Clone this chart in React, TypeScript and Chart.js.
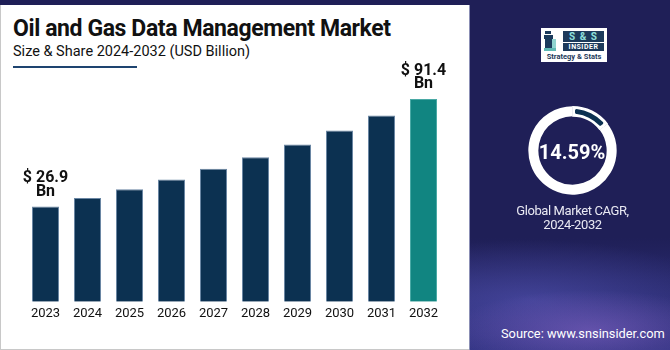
import React, { useEffect, useRef } from "react";
import { Chart, registerables } from "chart.js";

Chart.register(...registerables);

const years = ["2023", "2024", "2025", "2026", "2027", "2028", "2029", "2030", "2031", "2032"];
const marketValues = [26.9, 31.9, 37.2, 43.1, 49.5, 56.4, 64.0, 72.5, 81.4, 91.4];
const axisMin = -30.3;
const axisMax = 103;
const cagrValue = 14.59;
const cagrRest = [cagrValue, 100 - cagrValue];

const NAVY = "#0c3151";
const TEAL = "#118581";
const PANEL = "#1f1f57";

const valueLabelPlugin = {
  id: "valueLabels",
  afterDatasetsDraw(chart: any) {
    const meta = chart.getDatasetMeta(0);
    const ctx = chart.ctx;
    const idxs = [0, marketValues.length - 1];
    ctx.save();
    ctx.fillStyle = "#111111";
    ctx.font = "bold 16px Roboto";
    ctx.textAlign = "center";
    ctx.textBaseline = "middle";
    idxs.forEach((i) => {
      const bar = meta.data[i];
      ctx.fillText("$ " + marketValues[i].toFixed(1), bar.x, bar.y - 28);
      ctx.fillText("Bn", bar.x, bar.y - 14.5);
    });
    ctx.restore();
  },
};

function BarChart() {
  const ref = useRef<HTMLCanvasElement | null>(null);
  useEffect(() => {
    if (!ref.current) return;
    const chart = new Chart(ref.current, {
      type: "bar",
      data: {
        labels: years,
        datasets: [
          {
            data: marketValues,
            base: axisMin,
            backgroundColor: marketValues.map((_, i) => (i === marketValues.length - 1 ? TEAL : NAVY)),
            borderColor: marketValues.map((_, i) => (i === marketValues.length - 1 ? "#4aa9a5" : "#6a86a3")),
            borderWidth: 1,
            barPercentage: 0.643,
            categoryPercentage: 1,
          } as any,
        ],
      },
      options: {
        animation: false,
        responsive: true,
        maintainAspectRatio: false,
        layout: { padding: { left: 24.5, right: 24.5, top: 79.6, bottom: 23.7 } },
        plugins: { legend: { display: false }, tooltip: { enabled: false } },
        scales: {
          x: {
            grid: { display: false, drawTicks: false },
            border: { display: false },
            ticks: { color: "#111111", font: { size: 13, family: "Roboto" }, padding: 4.5 },
          },
          y: { display: false, min: axisMin, max: axisMax },
        },
      },
      plugins: [valueLabelPlugin],
    });
    return () => chart.destroy();
  }, []);
  return <canvas ref={ref} />;
}

function Donut() {
  const ref = useRef<HTMLCanvasElement | null>(null);
  useEffect(() => {
    if (!ref.current) return;
    const chart = new Chart(ref.current, {
      type: "doughnut",
      data: {
        labels: ["CAGR", "rest"],
        datasets: [
          {
            data: cagrRest,
            backgroundColor: [NAVY, "#ffffff"],
            borderColor: ["#ffffff", "#ffffff"],
            borderWidth: [2.5, 0],
            borderAlign: "inner",
            borderRadius: [4, 0],
            hoverOffset: 0,
            offset: 0,
          } as any,
        ],
      },
      options: {
        animation: false,
        responsive: true,
        maintainAspectRatio: false,
        cutout: "76%",
        rotation: 0,
        layout: { padding: 0 },
        plugins: { legend: { display: false }, tooltip: { enabled: false } },
      },
    });
    return () => chart.destroy();
  }, []);
  return <canvas ref={ref} />;
}

function Logo() {
  return (
    <div
      style={{
        position: "absolute",
        left: 541,
        top: 28,
        width: 66,
        height: 34,
        background: "#ffffff",
        overflow: "hidden",
      }}
    >
      <div style={{ position: "absolute", left: 4, top: 3, width: 6, height: 3, background: "#1b3a5c" }} />
      <div style={{ position: "absolute", left: 3, top: 7, width: 9, height: 4, background: "#1b3a5c" }} />
      <div style={{ position: "absolute", left: 4, top: 11, width: 7, height: 9, background: "#1b3a5c" }} />
      <div style={{ position: "absolute", left: 11, top: 11, width: 4, height: 12, background: "#8fd3cf" }} />
      <div style={{ position: "absolute", left: 3, top: 20, width: 12, height: 3, background: "#5fb9b4" }} />
      <div
        style={{
          position: "absolute",
          left: 22,
          top: 3,
          width: 41,
          height: 11,
          background: "#1d3a5b",
          color: "#8fe0dc",
          font: "bold 10px Roboto",
          lineHeight: "11px",
          textAlign: "center",
          letterSpacing: 1,
        }}
      >
        S &amp; S
      </div>
      <div
        style={{
          position: "absolute",
          left: 22,
          top: 15,
          width: 41,
          height: 8,
          background: "#1d3a5b",
          color: "#ffffff",
          font: "bold 7px Roboto",
          lineHeight: "8px",
          textAlign: "center",
          letterSpacing: 0.5,
        }}
      >
        INSIDER
      </div>
      <div
        style={{
          position: "absolute",
          left: 0,
          top: 24,
          width: 66,
          height: 9,
          color: "#1d3a5b",
          font: "bold 7.5px Roboto",
          lineHeight: "9px",
          textAlign: "center",
          whiteSpace: "nowrap",
        }}
      >
        Strategy &amp; Stats
      </div>
    </div>
  );
}

export default function App() {
  useEffect(() => {
    document.body.style.margin = "0";
  }, []);
  return (
    <div
      style={{
        position: "relative",
        width: 670,
        height: 350,
        overflow: "hidden",
        background: "#ffffff",
        fontFamily: "Roboto, sans-serif",
      }}
    >
      <div
        style={{
          position: "absolute",
          left: 0,
          top: 0,
          width: 468,
          height: 349,
          borderLeft: "1px solid #c8c8c8",
          borderBottom: "1px solid #c8c8c8",
          background: "#ffffff",
        }}
      />
      <div
        style={{
          position: "absolute",
          left: 469,
          top: 0,
          width: 201,
          height: 350,
          background:
            "radial-gradient(ellipse 140px 40px at 120px 330px, rgba(150,110,210,0.45), rgba(150,110,210,0) 100%), radial-gradient(ellipse 200px 60px at 60px 300px, rgba(90,90,190,0.5), rgba(90,90,190,0) 100%), linear-gradient(180deg, #1f1f57 0%, #1f1f57 68%, #27286a 80%, #333483 100%)",
          borderLeft: "1px solid #8b8fb5",
        }}
      />
      <div style={{ position: "absolute", left: 0, top: 0, width: 670, height: 5, background: PANEL }} />

      <div
        style={{
          position: "absolute",
          left: 13,
          top: 15,
          font: "bold 23px Roboto",
          color: "#111111",
          whiteSpace: "nowrap",
          letterSpacing: -0.4,
        }}
      >
        Oil and Gas Data Management Market
      </div>
      <div
        style={{
          position: "absolute",
          left: 13,
          top: 43,
          font: "14.5px Roboto",
          color: "#111111",
          whiteSpace: "nowrap",
        }}
      >
        Size &amp; Share 2024-2032 (USD Billion)
      </div>
      <div style={{ position: "absolute", left: 13, top: 66, width: 124, height: 2, background: "#1e4470" }} />

      <div style={{ position: "absolute", left: 0, top: 0, width: 469, height: 350 }}>
        <BarChart />
      </div>

      <Logo />

      <div style={{ position: "absolute", left: 527.5, top: 106, width: 89, height: 89 }}>
        <Donut />
      </div>
      <div
        style={{
          position: "absolute",
          left: 522,
          top: 140,
          width: 100,
          textAlign: "center",
          font: "bold 20px Roboto",
          color: "#ffffff",
        }}
      >
        {cagrValue.toFixed(2)}%
      </div>
      <div
        style={{
          position: "absolute",
          left: 490,
          top: 204,
          width: 165,
          textAlign: "center",
          font: "13px Roboto",
          lineHeight: "14px",
          letterSpacing: -0.4,
          color: "#e9e9f3",
        }}
      >
        Global Market CAGR,
        <br />
        2024-2032
      </div>

      <div
        style={{
          position: "absolute",
          left: 501,
          top: 326,
          font: "12.8px Roboto",
          color: "#ffffff",
          whiteSpace: "nowrap",
        }}
      >
        Source: www.snsinsider.com
      </div>
    </div>
  );
}
